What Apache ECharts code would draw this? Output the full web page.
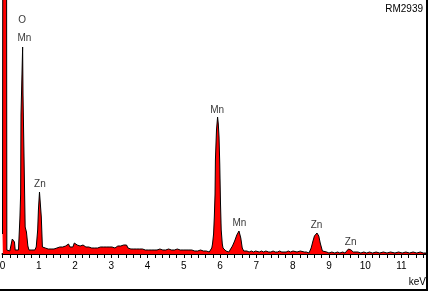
<!DOCTYPE html>
<html>
<head>
<meta charset="utf-8">
<script src="https://cdn.jsdelivr.net/npm/echarts@6/dist/echarts.min.js"></script>
<style>
  html, body { margin: 0; padding: 0; background: #fff; }
  #wrap { position: relative; width: 429px; height: 292px; }
  #chart { position: absolute; left: 0; top: 0; width: 429px; height: 292px; }
  #frame { position: absolute; left: 0; top: 0; width: 428px; height: 291px; box-sizing: border-box;
           border-right: 2px solid #000; border-bottom: 2px solid #000; pointer-events: none; }
</style>
</head>
<body>
<div id="wrap"><div id="chart"></div><div id="frame"></div></div>
<script>
// Spectrum: energy (keV) and counts (arbitrary units)
const spectrumKeV = [
  0.00, 0.01, 0.11, 0.12, 0.16, 0.20, 0.23, 0.27, 0.30, 0.33, 0.35, 0.40, 0.44, 0.46, 0.48, 0.50,
  0.51, 0.545, 0.555, 0.565, 0.61, 0.625, 0.66, 0.68, 0.70, 0.73, 0.77, 0.81, 0.85, 0.89, 0.93, 0.95,
  0.97, 0.99, 1.02, 1.05, 1.07, 1.10, 1.14,
  1.18, 1.22, 1.26, 1.30, 1.34, 1.38, 1.42, 1.46, 1.50, 1.54, 1.58, 1.62, 1.66, 1.70, 1.74, 1.78,
  1.82, 1.86, 1.90, 1.94, 1.98, 2.02, 2.06, 2.10, 2.14, 2.18, 2.22, 2.26, 2.30, 2.34, 2.38, 2.42,
  2.46, 2.50, 2.54, 2.58, 2.62, 2.66, 2.70, 2.74, 2.78, 2.82, 2.86, 2.90, 2.94, 2.98, 3.02, 3.06,
  3.10, 3.14, 3.18, 3.22, 3.26, 3.30, 3.34, 3.38, 3.42, 3.46, 3.50, 3.54, 3.58, 3.62, 3.66, 3.70,
  3.74, 3.78, 3.82, 3.86, 3.90, 3.94, 3.98, 4.02, 4.06, 4.10, 4.14, 4.18, 4.22, 4.26, 4.30, 4.34,
  4.38, 4.42, 4.46, 4.50, 4.54, 4.58, 4.62, 4.66, 4.70, 4.74, 4.78, 4.82, 4.86, 4.90, 4.94, 4.98,
  5.02, 5.06, 5.10, 5.14, 5.18, 5.22, 5.26, 5.30, 5.34, 5.38, 5.42, 5.46, 5.50, 5.54, 5.58, 5.62,
  5.66, 5.70, 5.74, 5.77, 5.79, 5.82, 5.84, 5.86, 5.87, 5.90, 5.93, 5.95, 5.97, 5.99, 6.01, 6.03,
  6.06, 6.08, 6.12, 6.16, 6.20, 6.24, 6.28, 6.34, 6.40, 6.46, 6.52, 6.57, 6.61, 6.65, 6.68, 6.74,
  6.80, 6.86, 6.92, 6.98, 7.03, 7.08, 7.14, 7.20, 7.26, 7.30, 7.34, 7.40, 7.46, 7.52, 7.58, 7.64,
  7.70, 7.76, 7.82, 7.88, 7.94, 8.01, 8.06, 8.12, 8.17, 8.21, 8.26, 8.32, 8.38, 8.45, 8.51, 8.56,
  8.60, 8.67, 8.72, 8.76, 8.82, 8.87, 8.94, 9.00, 9.08, 9.16, 9.24, 9.30, 9.38, 9.44, 9.48, 9.54,
  9.61, 9.67, 9.72, 9.80, 9.88, 9.96, 10.04, 10.12, 10.20, 10.30, 10.40, 10.50, 10.60, 10.70, 10.75, 10.82,
  10.92, 11.02, 11.12, 11.22, 11.32, 11.42, 11.52, 11.60, 11.69
];
const spectrumCounts = [
  20, 400, 400, 4, 2, 3, 8, 15, 17, 12, 4, 3, 4, 20, 36, 60,
  139, 139, 207, 161, 161, 27, 22, 20, 8, 4, 6, 4, 5, 4, 7, 8,
  24, 44, 62, 62, 37, 7, 5,
  6, 4, 5, 6, 5, 6, 5, 7, 6, 8, 7, 8, 7, 9, 8, 10,
  10, 7, 8, 7, 11, 12, 9, 7, 8, 7, 9, 8, 7, 8, 7, 8,
  6, 7, 6, 7, 6, 7, 7, 6, 7, 6, 7, 6, 7, 6, 7, 7,
  6, 7, 8, 7, 8, 9, 9, 8, 9, 6, 6, 5, 6, 5, 6, 5,
  6, 5, 6, 5, 5, 4, 5, 4, 5, 4, 5, 4, 5, 4, 5, 5,
  6, 4, 5, 4, 4, 5, 4, 4, 5, 4, 4, 5, 6, 4, 3, 4,
  3, 4, 3, 4, 3, 4, 3, 3, 4, 3, 3, 4, 3, 3, 4, 3,
  3, 2, 4, 6, 10, 20, 37, 60, 94, 124, 137, 130, 117, 90, 51, 24,
  10, 6, 4, 3, 3, 2, 3, 8, 13, 19, 23, 16, 6, 3, 2, 3,
  2, 3, 2, 3, 4, 2, 3, 2, 3, 3, 2, 2, 3, 2, 2, 3,
  2, 2, 2, 3, 2, 3, 2, 2, 2, 3, 2, 2, 2, 1, 6, 13,
  18, 21, 18, 11, 3, 1, 2, 1, 2, 1, 2, 1, 2, 1, 2, 5,
  4, 2, 1, 2, 1, 2, 1, 2, 1, 2, 1, 2, 1, 2, 2, 1,
  2, 1, 2, 1, 2, 1, 2, 1, 1
];

// Peak labels
const peakNames = ['O', 'Mn', 'Zn', 'Mn', 'Mn', 'Zn', 'Zn'];
const peakKeV   = [0.54, 0.605, 1.03, 5.92, 6.53, 8.66, 9.60];
const peakLabelCounts = [234, 216, 70, 144, 31, 29, 12];

const xTickLabels = ['0','1','2','3','4','5','6','7','8','9','10','11'];
const sampleName = 'RM2939';
const unitName = 'keV';

const FONT = '"Liberation Sans", Arial, sans-serif';

const chart = echarts.init(document.getElementById('chart'), null, { renderer: 'canvas' });

const lineData = spectrumKeV.map((e, i) => [e, spectrumCounts[i]]);
const labelData = peakNames.map((n, i) => ({ name: n, value: [peakKeV[i], peakLabelCounts[i]] }));

chart.setOption({
  animation: false,
  backgroundColor: '#fff',
  grid: { left: 2.5, right: 2.5, top: 0, bottom: 38, containLabel: false, outerBoundsMode: 'none' },
  xAxis: {
    type: 'value',
    min: 0,
    max: 11.69,
    interval: 1,
    axisLine: { show: true, onZero: false, lineStyle: { color: '#000', width: 2 } },
    axisTick: { show: true, inside: false, length: 4, lineStyle: { color: '#000', width: 1 } },
    minorTick: { show: true, splitNumber: 5, length: 4, lineStyle: { color: '#000', width: 1 } },
    splitLine: { show: false },
    minorSplitLine: { show: false },
    axisLabel: {
      show: true, showMaxLabel: false, hideOverlap: false,
      color: '#000', fontSize: 10, fontFamily: FONT, margin: 7,
      formatter: function (v) {
        const r = Math.round(v);
        if (Math.abs(v - r) < 1e-6 && r >= 0 && r < xTickLabels.length) return xTickLabels[r];
        return '';
      }
    }
  },
  yAxis: {
    type: 'value', min: 0, max: 254,
    axisLine: { show: false }, axisTick: { show: false }, axisLabel: { show: false },
    splitLine: { show: false }
  },
  graphic: [
    { type: 'text', right: 6, top: 4, style: { text: sampleName, font: '10px ' + FONT, fill: '#000' } },
    { type: 'text', right: 3, top: 277, style: { text: unitName, font: '10px ' + FONT, fill: '#000' } }
  ],
  series: [
    {
      type: 'line',
      data: lineData,
      showSymbol: false,
      symbol: 'none',
      sampling: null,
      clip: true,
      lineStyle: { color: '#000', width: 1 },
      areaStyle: { color: '#ff0000', opacity: 1 },
      z: 2
    },
    {
      type: 'scatter',
      data: labelData,
      symbolSize: 1,
      itemStyle: { color: 'rgba(0,0,0,0)' },
      label: {
        show: true, position: 'inside', formatter: '{b}',
        color: '#000', fontSize: 10, fontFamily: FONT
      },
      z: 3
    }
  ]
});
</script>
</body>
</html>
